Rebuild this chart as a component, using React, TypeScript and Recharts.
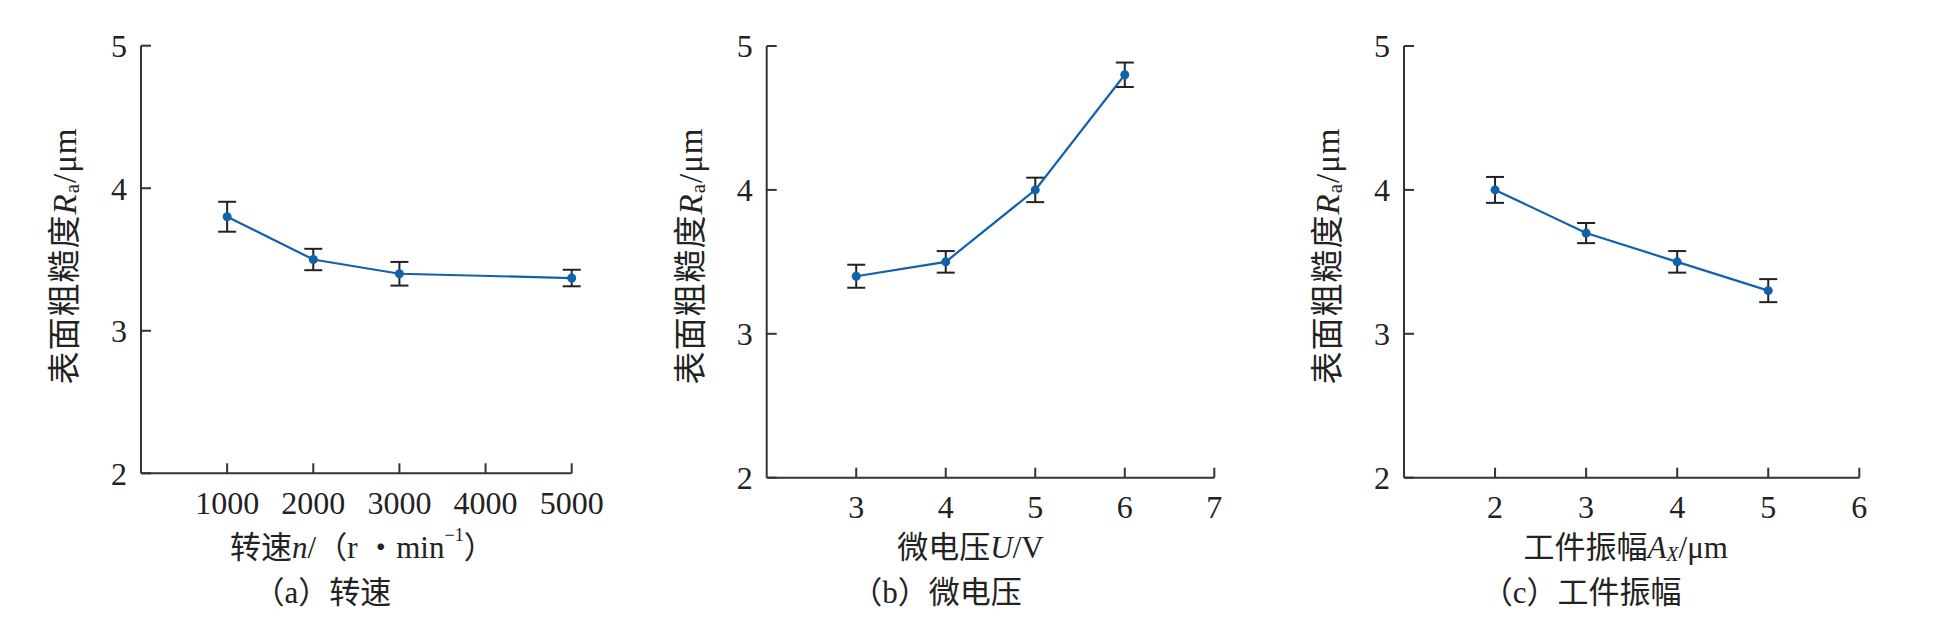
import React from "react";
import { ErrorBar, Label, Line, LineChart, XAxis, YAxis } from "recharts";

const SPEED_X = [1000, 2000, 3000, 5000];
const SPEED_RA = [3.8, 3.5, 3.4, 3.37];
const SPEED_ERR = [0.105, 0.075, 0.083, 0.058];
const SPEED_TICKS = [1000, 2000, 3000, 4000, 5000];

const VOLT_X = [3, 4, 5, 6];
const VOLT_RA = [3.4, 3.5, 4.0, 4.8];
const VOLT_ERR = [0.08, 0.075, 0.085, 0.085];
const VOLT_TICKS = [3, 4, 5, 6, 7];

const AMP_X = [2, 3, 4, 5];
const AMP_RA = [4.0, 3.7, 3.5, 3.3];
const AMP_ERR = [0.09, 0.07, 0.075, 0.08];
const AMP_TICKS = [2, 3, 4, 5, 6];

const RA_TICKS = [2, 3, 4, 5];

const BLUE = "#1162ad";
const INK = "#222";
const AXIS = "#333";
const FONT = "'Liberation Serif', 'Noto Sans CJK SC', serif";
const CJK = "'Liberation Serif', 'Noto Sans CJK SC', sans-serif";

type Row = { x: number; ra: number; err: number };

function rows(x: number[], ra: number[], err: number[]): Row[] {
  return x.map((v, i) => ({ x: v, ra: ra[i], err: err[i] }));
}

function YTitle({ viewBox }: any) {
  const cx = viewBox.x + viewBox.width - 76;
  const cy = 256;
  return (
    <text
      x={cx}
      y={cy}
      transform={`rotate(-90 ${cx} ${cy})`}
      textAnchor="middle"
      dominantBaseline="central"
      fontSize={33}
      fontFamily={CJK}
      fill={INK}
      letterSpacing={1}
    >
      表面粗糙度
      <tspan fontStyle="italic" fontFamily={FONT}>R</tspan>
      <tspan fontSize={21} dy={7} fontFamily={FONT}>a</tspan>
      <tspan dy={-7} fontFamily={FONT}>/μm</tspan>
    </text>
  );
}

function XTitles({ viewBox, title, sub, titleDx, subDx }: any) {
  const mid = viewBox.x + viewBox.width / 2;
  return (
    <g fontFamily={CJK} fill={INK}>
      <text x={mid + titleDx} y={547} textAnchor="middle" dominantBaseline="central" fontSize={31}>
        {title}
      </text>
      <text x={mid + subDx} y={592} textAnchor="middle" dominantBaseline="central" fontSize={31}>
        {sub}
      </text>
    </g>
  );
}

const speedTitle = (
  <>
    转速<tspan fontStyle="italic" fontFamily={FONT}>n</tspan>
    <tspan fontFamily={FONT}>/</tspan>（<tspan fontFamily={FONT}>r</tspan> ・ 
    <tspan fontFamily={FONT}>min</tspan>
    <tspan fontSize={18} dy={-12} fontFamily={FONT}>−1</tspan>
    <tspan dy={12}>）</tspan>
  </>
);

const voltTitle = (
  <>
    微电压<tspan fontStyle="italic" fontFamily={FONT}>U</tspan>
    <tspan fontFamily={FONT}>/V</tspan>
  </>
);

const ampTitle = (
  <>
    工件振幅<tspan fontStyle="italic" fontFamily={FONT}>A</tspan>
    <tspan fontStyle="italic" fontSize={20} dy={7} fontFamily={FONT}>X</tspan>
    <tspan dy={-7} fontFamily={FONT}>/μm</tspan>
  </>
);

const PANELS = [
  {
    key: "a",
    left: 0,
    width: 650,
    margin: { top: 45.7, right: 78.3, bottom: 106.7, left: 81 },
    data: rows(SPEED_X, SPEED_RA, SPEED_ERR),
    domain: [0, 5000],
    ticks: SPEED_TICKS,
    title: speedTitle,
    sub: "（a）转速",
    titleDx: 6,
    subDx: -34,
  },
  {
    key: "b",
    left: 650,
    width: 650,
    margin: { top: 46, right: 85.7, bottom: 102.3, left: 56.7 },
    data: rows(VOLT_X, VOLT_RA, VOLT_ERR),
    domain: [2, 7],
    ticks: VOLT_TICKS,
    title: voltTitle,
    sub: "（b）微电压",
    titleDx: -20,
    subDx: -54,
  },
  {
    key: "c",
    left: 1300,
    width: 645,
    margin: { top: 46, right: 85.7, bottom: 102.3, left: 44 },
    data: rows(AMP_X, AMP_RA, AMP_ERR),
    domain: [1, 6],
    ticks: AMP_TICKS,
    title: ampTitle,
    sub: "（c）工件振幅",
    titleDx: -6,
    subDx: -50,
  },
];

export default function App() {
  return (
    <div style={{ position: "absolute", left: 0, top: 0, width: 1945, height: 620, background: "#fff" }}>
      {PANELS.map((p) => (
        <div key={p.key} style={{ position: "absolute", left: p.left, top: 0 }}>
          <LineChart width={p.width} height={620} data={p.data} margin={p.margin}>
            <XAxis
              type="number"
              dataKey="x"
              domain={p.domain}
              ticks={p.ticks}
              interval={0}
              height={40}
              tickSize={-10}
              tickMargin={28}
              axisLine={{ stroke: AXIS, strokeWidth: 2 }}
              tickLine={{ stroke: AXIS, strokeWidth: 2 }}
              tick={{ fontSize: 32, fill: INK, fontFamily: FONT }}
            >
              <Label
                content={(props: any) => (
                  <XTitles viewBox={props.viewBox} title={p.title} sub={p.sub} titleDx={p.titleDx} subDx={p.subDx} />
                )}
              />
            </XAxis>
            <YAxis
              type="number"
              domain={[2, 5]}
              ticks={RA_TICKS}
              interval={0}
              width={60}
              tickSize={-10}
              tickMargin={24}
              axisLine={{ stroke: AXIS, strokeWidth: 2 }}
              tickLine={{ stroke: AXIS, strokeWidth: 2 }}
              tick={{ fontSize: 32, fill: INK, fontFamily: FONT }}
            >
              <Label content={(props: any) => <YTitle viewBox={props.viewBox} />} />
            </YAxis>
            <Line
              type="linear"
              dataKey="ra"
              stroke={BLUE}
              strokeWidth={2.2}
              dot={{ r: 4.5, fill: BLUE, stroke: BLUE, strokeWidth: 0 }}
              activeDot={false}
              isAnimationActive={false}
            >
              <ErrorBar dataKey="err" direction="y" width={9} stroke={INK} strokeWidth={2} isAnimationActive={false} />
            </Line>
          </LineChart>
        </div>
      ))}
    </div>
  );
}
